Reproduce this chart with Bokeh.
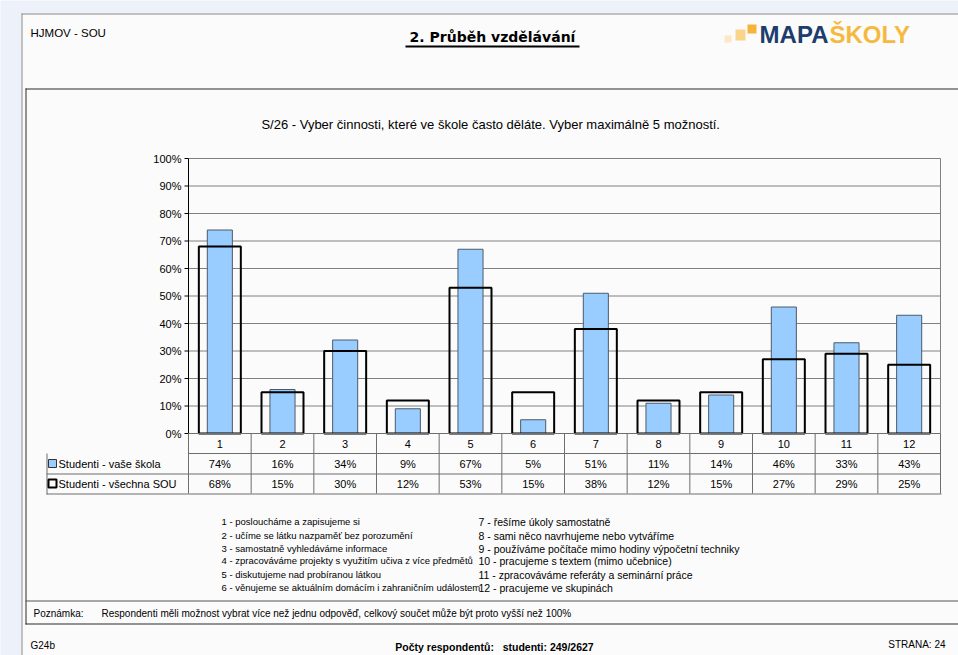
from bokeh.plotting import figure
from bokeh.models import Range1d
from bokeh.core.properties import value
from bokeh.embed import file_html
from bokeh.resources import INLINE

# ---------------- data ----------------
categories = [1, 2, 3, 4, 5, 6, 7, 8, 9, 10, 11, 12]
school = [74, 16, 34, 9, 67, 5, 51, 11, 14, 46, 33, 43]
all_sou = [68, 15, 30, 12, 53, 15, 38, 12, 15, 27, 29, 25]
series_names = ["Studenti - vaše škola", "Studenti - všechna SOU"]
y_ticks = [0, 10, 20, 30, 40, 50, 60, 70, 80, 90, 100]
y_tick_labels = ["0%", "10%", "20%", "30%", "40%", "50%", "60%", "70%", "80%", "90%", "100%"]
activities_left = [
    "1 - posloucháme a zapisujeme si",
    "2 - učíme se látku nazpaměť bez porozumění",
    "3 - samostatně vyhledáváme informace",
    "4 - zpracováváme projekty s využitím učiva z více předmětů",
    "5 - diskutujeme nad probíranou látkou",
    "6 - věnujeme se aktuálním domácím i zahraničním událostem",
]
activities_right = [
    "7 - řešíme úkoly samostatně",
    "8 - sami něco navrhujeme nebo vytváříme",
    "9 - používáme počítače mimo hodiny výpočetní techniky",
    "10 - pracujeme s textem (mimo učebnice)",
    "11 - zpracováváme referáty a seminární práce",
    "12 - pracujeme ve skupinách",
]
header_left = "HJMOV - SOU"
page_title = "2. Průběh vzdělávání"
chart_title = "S/26 - Vyber činnosti, které ve škole často děláte.  Vyber maximálně 5 možností."
note_label = "Poznámka:"
note_text = "Respondenti měli možnost vybrat více než jednu odpověď, celkový součet může být proto vyšší než 100%"
footer_left = "G24b"
footer_mid = "Počty respondentů:\u00a0\u00a0 studenti: 249/2627"
footer_right = "STRANA: 24"

# ---------------- layout / styling ----------------
W, H = 958, 655
PLOT_L, PLOT_R, PLOT_T, PLOT_B = 188, 940, 158, 433   # plot area on the page
FONT = "Liberation Sans"
BLUE = "#99ccff"
PAGE = "#fbfbfb"
OUTER = "#edf1fa"
GRID = "#808080"
TBL = "#6e6e6e"

ncat = len(categories)
xs = (PLOT_R - PLOT_L) / ncat
ys = (PLOT_B - PLOT_T) / 100.0
x_range = Range1d(0.5 - PLOT_L / xs, ncat + 0.5 + (W - PLOT_R) / xs)
y_range = Range1d(0 - (H - PLOT_B) / ys, 100 + PLOT_T / ys)

p = figure(width=W, height=H, output_backend="svg", toolbar_location=None,
           x_range=x_range, y_range=y_range, min_border=0,
           background_fill_color=OUTER, border_fill_color=OUTER)
p.axis.visible = False
p.grid.visible = False
p.outline_line_color = None
p.extra_x_ranges = {"px": Range1d(0, W)}
p.extra_y_ranges = {"py": Range1d(H, 0)}
PX = dict(x_range_name="px", y_range_name="py")


def rect(l, t, r, b, fill=None, line=None, lw=1):
    p.quad(left=l, right=r, top=t, bottom=b, fill_color=fill, line_color=line,
           line_width=lw, **PX)


def text(x, y, t, size="11px", align="left", bold=False, color="black", font=FONT, **kw):
    p.text(x=x, y=y, text=t if isinstance(t, list) else [t],
           text_font=value(font), text_font_size=value(size), text_align=align,
           text_baseline="middle", text_color=color,
           text_font_style="bold" if bold else "normal", **kw)


# page and frames
rect(21, 13, 1000, 1000, fill=PAGE)
rect(21, 13, 1000, 14, fill="#8a8a8a")
rect(21, 13, 22, 1000, fill="#8a8a8a")
rect(25, 88, 1000, 89, fill="#2b2b2b")
rect(25, 88, 26, 624, fill="#2b2b2b")
rect(25, 623, 1000, 624, fill="#2b2b2b")
rect(25, 600, 1000, 601, fill="#555555")

# header
text(30, 32, header_left, size="11.5px", **PX)
text(492, 36, page_title, size="14px", align="center", bold=True, font="DejaVu Sans", **PX)
rect(405, 45, 579, 47, fill="black")

# logo
rect(724, 35, 731, 42, fill="#fce8c6")
rect(735, 29, 745, 40, fill="#f9d48b")
rect(747, 24, 756, 33, fill="#f6b43d")
text(828, 34, "MAPA", size="24px", align="right", bold=True, color="#1d3d6c", **PX)
text(829, 34, "ŠKOLY", size="24px", bold=True, color="#f6b940", **PX)

# chart title
text(492, 124, chart_title, size="13px", align="center", **PX)

# grid, axis, outline (chart data coordinates)
p.segment(x0=0.5, x1=ncat + 0.5, y0=y_ticks, y1=y_ticks, line_color=GRID, line_width=1)
p.segment(x0=ncat + 0.5, x1=ncat + 0.5, y0=0, y1=100, line_color=GRID, line_width=1)
p.segment(x0=0.5 - 4 / xs, x1=0.5, y0=y_ticks, y1=y_ticks, line_color="black", line_width=1)
p.segment(x0=0.5, x1=0.5, y0=0, y1=100, line_color="black", line_width=1)
text([0.5] * len(y_ticks), y_ticks, y_tick_labels, size="11px", align="right", x_offset=-7)

# bars
p.vbar(x=categories, top=school, width=0.40, fill_color=BLUE, line_color="#4d5a6a", line_width=1)
p.vbar(x=categories, top=all_sou, width=0.67, fill_color=None, line_color="black", line_width=2)

# data table below the plot
edges = [c - 0.5 for c in categories] + [ncat + 0.5]
p.segment(x0=edges, x1=edges, y0=PLOT_B, y1=493, line_color=TBL, y_range_name="py")
p.segment(x0=0.5, x1=ncat + 0.5, y0=[PLOT_B, 453], y1=[PLOT_B, 453], line_color=TBL, y_range_name="py")
rect(46, 453, 47, 494, fill=TBL)
rect(46, 473, PLOT_R, 474, fill=TBL)
rect(46, 493, PLOT_R + 1, 494, fill=TBL)
text(categories, [443] * ncat, [str(c) for c in categories], align="center", y_range_name="py")
text(categories, [463] * ncat, [f"{v}%" for v in school], align="center", y_range_name="py")
text(categories, [483] * ncat, [f"{v}%" for v in all_sou], align="center", y_range_name="py")

# legend keys inside the table
rect(48, 459, 56, 467, fill=BLUE, line="#333333")
rect(48, 479, 56, 487, fill=None, line="black", lw=2)
text(58, 463, series_names[0], **PX)
text(58, 483, series_names[1], **PX)

# activity descriptions
rows_y = [521, 535, 548, 560, 574, 587]
text([221] * 6, rows_y, activities_left, size="9.5px", **PX)
text([478] * 6, rows_y, activities_right, size="10.5px", **PX)

# note & footer
text(33, 613, note_label, size="10px", **PX)
text(101, 613, note_text, size="10px", **PX)
text(30, 645, footer_left, size="10px", **PX)
text(494, 646, footer_mid, size="10.5px", align="center", bold=True, **PX)
text(945, 644, footer_right, size="10px", align="right", **PX)

open("out.html", "w").write(file_html(p, INLINE))
